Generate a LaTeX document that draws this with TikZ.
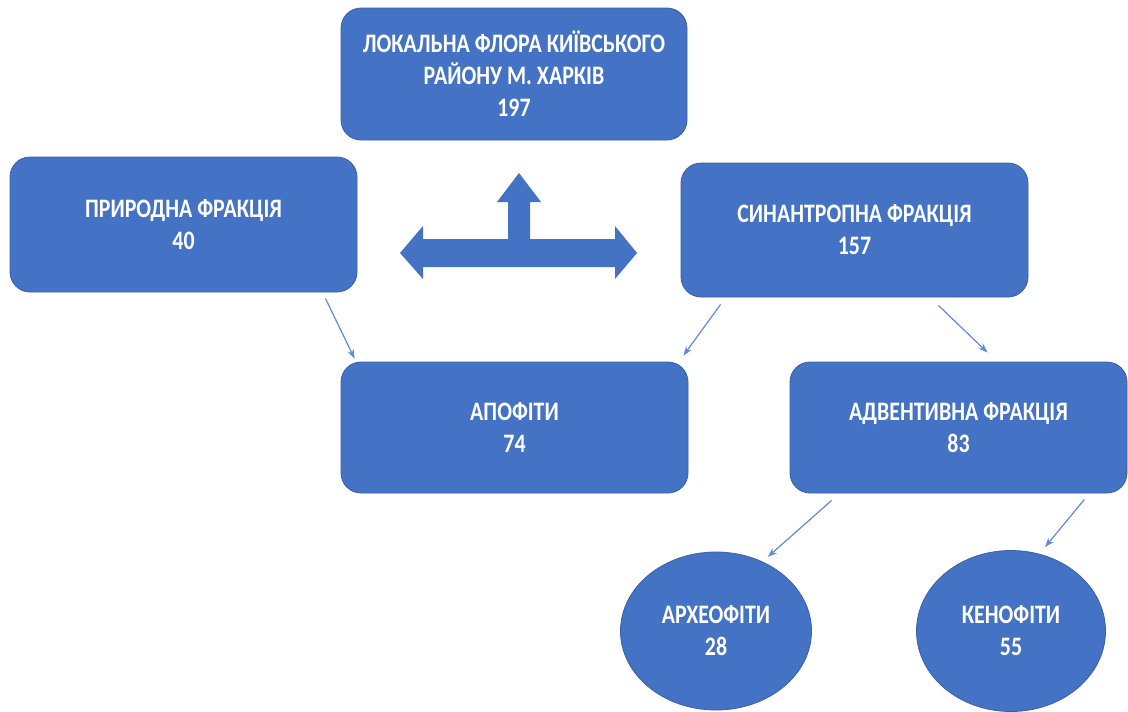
\documentclass[tikz,border=0pt]{standalone}
\usepackage{fontspec}
\setmainfont{Carlito}[FakeStretch=0.82]
\usetikzlibrary{shapes.geometric,arrows.meta}
\definecolor{boxblue}{HTML}{4472C4}
\definecolor{linkblue}{HTML}{5E8BDB}
\tikzset{
  box/.style={draw=boxblue!85!black, line width=0.6pt, fill=boxblue, rounded corners=15pt, text=white,
    font=\fontsize{20}{24}\selectfont\bfseries, align=center, inner sep=0pt},
  oval/.style={ellipse, draw=boxblue!85!black, line width=0.6pt, fill=boxblue, text=white,
    font=\fontsize{20}{24}\selectfont\bfseries, align=center, inner sep=0pt},
  conn/.style={draw=linkblue, line width=0.9pt, -{Stealth[length=7pt,width=5pt]}},
}
\begin{document}
\begin{tikzpicture}[x=0.75pt,y=-0.75pt]
\useasboundingbox (0,0) rectangle (1128,711);
\clip (0,0) rectangle (1128,711);
\fill[white] (0,0) rectangle (1128,711);

\node[box, minimum width=346*0.75pt, minimum height=132*0.75pt] (flora) at (514,74)
  {ЛОКАЛЬНА ФЛОРА КИЇВСЬКОГО\\РАЙОНУ М. ХАРКІВ\\197};
\node[box, minimum width=347*0.75pt, minimum height=135*0.75pt] (prir) at (183.5,224.5)
  {ПРИРОДНА ФРАКЦІЯ\\40};
\node[box, minimum width=347*0.75pt, minimum height=134*0.75pt] (syn) at (854.5,230)
  {СИНАНТРОПНА ФРАКЦІЯ\\157};
\node[box, minimum width=347*0.75pt, minimum height=131*0.75pt] (apo) at (514.5,427.5)
  {АПОФІТИ\\74};
\node[box, minimum width=337*0.75pt, minimum height=131*0.75pt] (adv) at (958.5,427.5)
  {АДВЕНТИВНА ФРАКЦІЯ\\83};
\node[oval, minimum width=191*0.75pt, minimum height=158*0.75pt] (arch) at (716,631)
  {АРХЕОФІТИ\\28};
\node[oval, minimum width=189*0.75pt, minimum height=161*0.75pt] (ken) at (1011,631)
  {КЕНОФІТИ\\55};

% block arrow (two-way with upward branch)
\fill[boxblue] (400,253) -- (423,226) -- (423,239) -- (508,239) -- (508,202) -- (497,202)
  -- (519,173) -- (541,202) -- (530,202) -- (530,239) -- (615,239) -- (615,226)
  -- (637,253) -- (615,279) -- (615,267) -- (423,267) -- (423,279) -- cycle;

% connectors
\draw[conn] ([shift={(-32,6)}]prir.south east) -- ([shift={(14,-3)}]apo.north west);
\draw[conn] ([shift={(40,7)}]syn.south west) -- ([shift={(-5,-6)}]apo.north east);
\draw[conn] ([shift={(-90,8)}]syn.south east) -- ([shift={(198,-9)}]adv.north west);
\draw[conn] ([shift={(42,7)}]adv.south west) -- ([shift={(-16,-18)}]arch.north east);
\draw[conn] ([shift={(-43,6)}]adv.south east) -- ([shift={(34,-3)}]ken.north);
\end{tikzpicture}
\end{document}
